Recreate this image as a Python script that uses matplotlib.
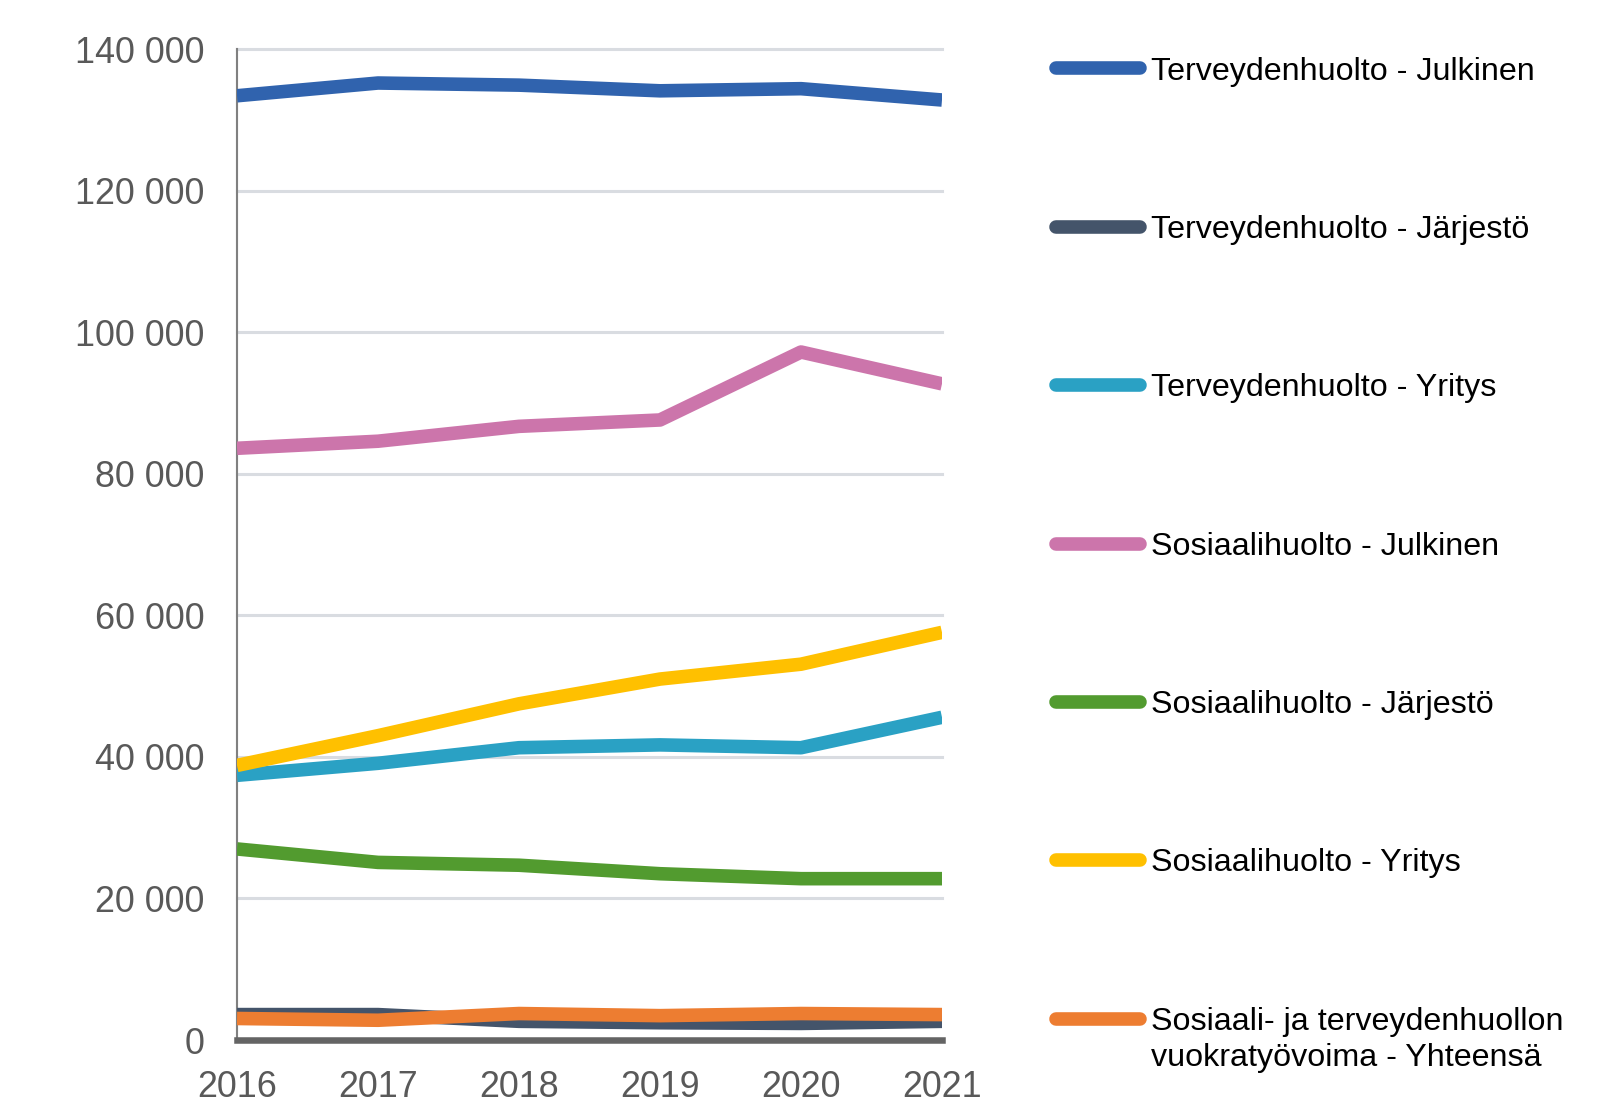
import matplotlib
matplotlib.use("Agg")
import matplotlib.pyplot as plt
from matplotlib.lines import Line2D

years = [2016, 2017, 2018, 2019, 2020, 2021]

labels = [
    "Terveydenhuolto - Julkinen",
    "Terveydenhuolto - Järjestö",
    "Terveydenhuolto - Yritys",
    "Sosiaalihuolto - Julkinen",
    "Sosiaalihuolto - Järjestö",
    "Sosiaalihuolto - Yritys",
    "Sosiaali- ja terveydenhuollon\nvuokratyövoima - Yhteensä",
]

terv_julkinen = [133400, 135200, 134900, 134100, 134400, 132800]
terv_jarjesto = [3600, 3600, 2650, 2450, 2350, 2650]
terv_yritys = [37400, 39100, 41300, 41700, 41300, 45600]
sos_julkinen = [83600, 84600, 86700, 87600, 97200, 92700]
sos_jarjesto = [27000, 25100, 24700, 23500, 22800, 22800]
sos_yritys = [38800, 43000, 47500, 51000, 53100, 57600]
vuokra = [3050, 2800, 3750, 3450, 3750, 3600]

series = [terv_julkinen, terv_jarjesto, terv_yritys, sos_julkinen,
          sos_jarjesto, sos_yritys, vuokra]
colors = ["#3063AE", "#44546A", "#2AA1C4", "#CC75AB", "#529B2F", "#FFC000", "#ED7D31"]

yticks = [0, 20000, 40000, 60000, 80000, 100000, 120000, 140000]
ytick_labels = ["0", "20 000", "40 000", "60 000", "80 000", "100 000", "120 000", "140 000"]

plt.rcParams['font.family'] = ['Liberation Sans', 'DejaVu Sans']

W, H = 1602, 1118
s = 1602 / 1568  # layout measured on a 1568-wide view

fig = plt.figure(figsize=(W / 100, H / 100), dpi=100)
L, R, T, B = 232 * s, 922 * s, 48 * s, 1018 * s
ax = fig.add_axes([L / W, 1 - B / H, (R - L) / W, (B - T) / H])

lw = 13.3 * s * 72 / 100
for vals, c in zip(series, colors):
    ax.plot(years, vals, color=c, lw=lw, solid_joinstyle='round',
            solid_capstyle='butt', zorder=3)

ax.set_xlim(2016, 2021)
ax.set_ylim(0, 140000)
ax.set_yticks(yticks)
ax.set_yticklabels(ytick_labels)
ax.set_xticks(years)
ax.set_xticklabels([str(y) for y in years])
ax.tick_params(axis='both', length=0, labelsize=25.3 * s, labelcolor="#595959")
ax.tick_params(axis='y', pad=23 * s)
ax.tick_params(axis='x', pad=21 * s)

for yv in yticks[1:]:
    ax.axhline(yv, color="#D9DCE1", lw=3 * s * 0.72, zorder=1, clip_on=False)

for sp in ['top', 'right']:
    ax.spines[sp].set_visible(False)
ax.spines['left'].set_color("#808080")
ax.spines['left'].set_linewidth(1.5 * s)
ax.spines['bottom'].set_color("#646464")
ax.spines['bottom'].set_linewidth(4.6 * s)
ax.spines['bottom'].set_zorder(4)

# legend drawn at fixed positions
leg_y = [67, 222, 377, 532, 687, 842, 997]
fs_leg = 22.7 * s
dy = 3  # text centre offset below handle centre (in view pixels)
for lab, c, yp in zip(labels, colors, leg_y):
    fy = 1 - yp * s / H
    fig.add_artist(Line2D([1034 * s / W, 1116 * s / W], [fy, fy], color=c, lw=lw,
                          solid_capstyle='round', transform=fig.transFigure))
    ty = 1 - (yp + dy) * s / H
    if "\n" in lab:
        first, second = lab.split("\n")
        fig.text(1127 * s / W, ty, first, fontsize=fs_leg, color="black", va='center', ha='left')
        fig.text(1127 * s / W, 1 - (yp + dy + 36) * s / H, second, fontsize=fs_leg, color="black",
                 va='center', ha='left')
    else:
        fig.text(1127 * s / W, ty, lab, fontsize=fs_leg, color="black", va='center', ha='left')

fig.savefig("out.png", dpi=100, facecolor="white")
